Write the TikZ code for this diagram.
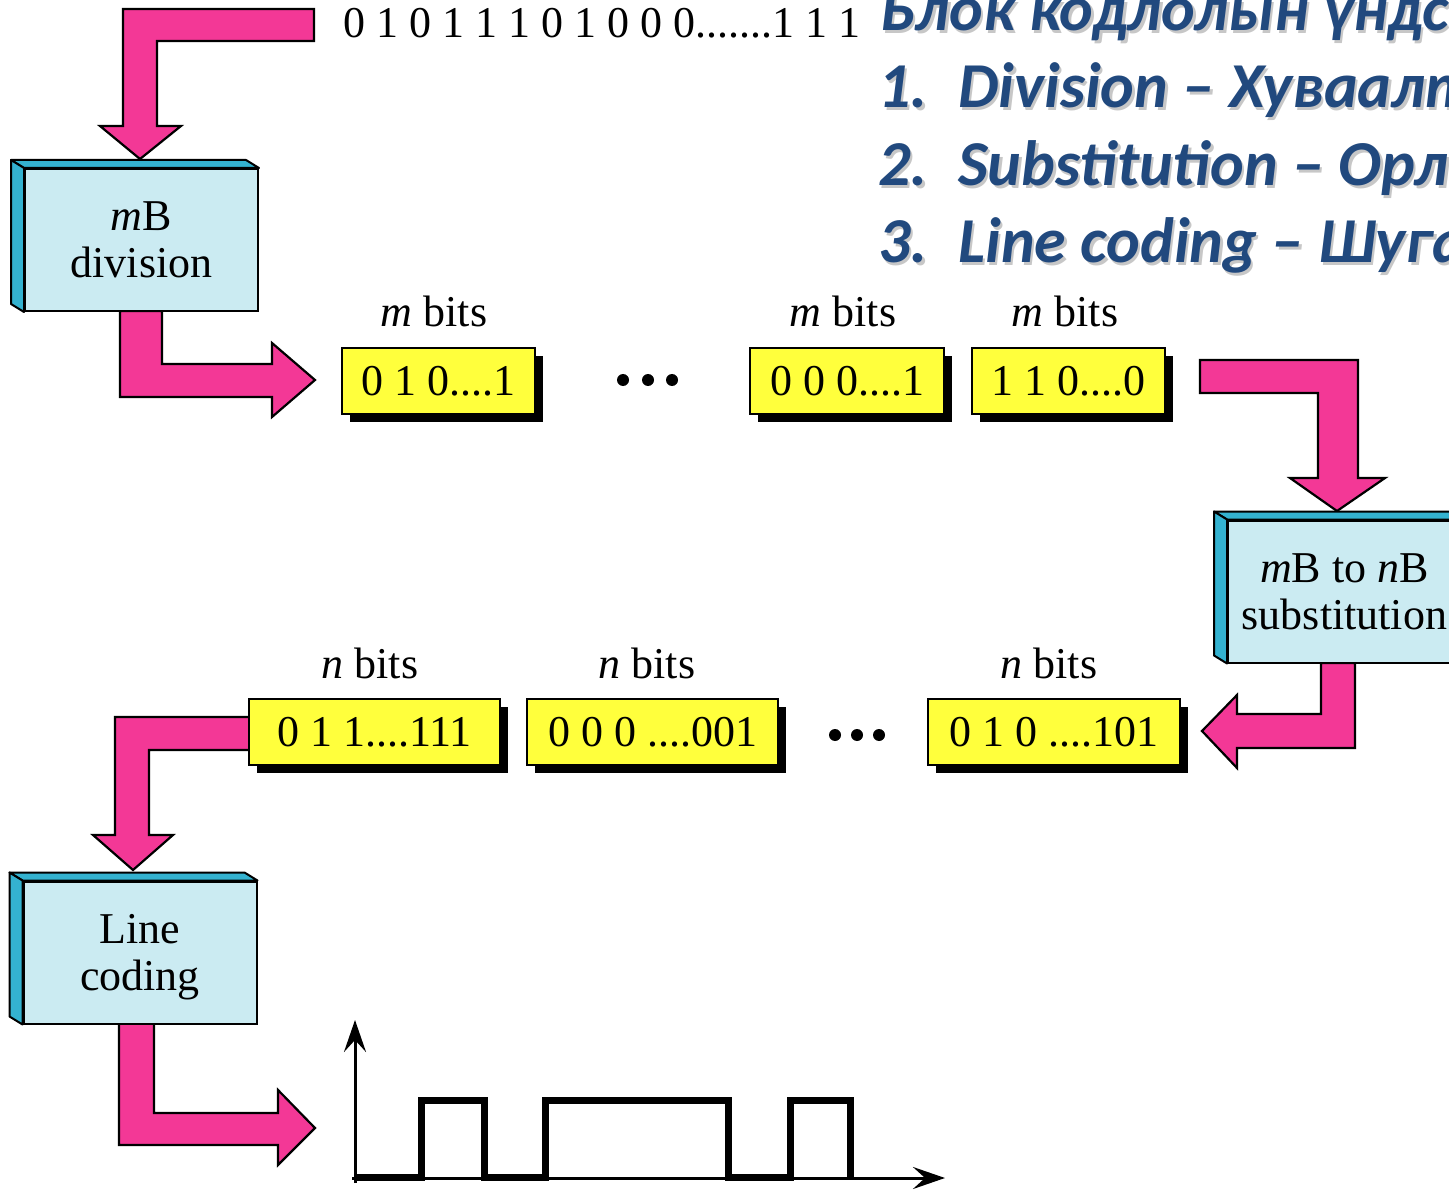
\documentclass[tikz,border=0pt]{standalone}
\usepackage{fontspec}
\setmainfont{Liberation Serif}
\newfontfamily\titlefont{Carlito}
\usetikzlibrary{shadows,arrows.meta,calc}
\definecolor{arrowpink}{RGB}{243,56,150}
\definecolor{boxface}{RGB}{203,235,242}
\definecolor{boxside}{RGB}{52,178,208}
\definecolor{bitsyellow}{RGB}{255,255,60}
\definecolor{titleblue}{RGB}{33,73,126}

% heading line with a soft drop shadow
\newcommand\ttl[4]{%
  \node[title,text=black,opacity=.22] at ($(#1,#2)+(2.5,2.5)$) {#4};
  \node[title] (#3) at (#1,#2) {#4};}

% 3-D faces (top and left) of a stage block
\newcommand\blockfaces[1]{%
  \filldraw[side] (#1.north west) -- ++(-13,-8) -- ($(#1.north east)+(-13,-8)$) -- (#1.north east) -- cycle;
  \filldraw[side] (#1.north west) -- ++(-13,-8) -- ($(#1.south west)+(-13,-8)$) -- (#1.south west) -- cycle;}

\begin{document}
\begin{tikzpicture}[x=1pt,y=-1pt,
  fat/.style={fill=arrowpink,draw=black,line width=2.2pt,line join=miter},
  stage/.style={fill=boxface,draw=black,line width=2pt,minimum width=233pt,
    minimum height=142pt,inner sep=0pt,align=center,
    font=\fontsize{44}{47}\selectfont},
  side/.style={fill=boxside,draw=black,line width=2pt,line join=round},
  bits/.style={fill=bitsyellow,draw=black,line width=2pt,minimum height=66pt,
    inner sep=0pt,font=\fontsize{44}{47}\selectfont,
    drop shadow={shadow xshift=8pt,shadow yshift=-8pt,fill=black,opacity=1}},
  lbl/.style={anchor=base,font=\fontsize{44}{47}\selectfont,inner sep=0pt},
  dot/.style={circle,fill=black,minimum size=12pt,inner sep=0pt},
  title/.style={anchor=base west,inner sep=0pt,text=titleblue,
    font=\titlefont\bfseries\itshape\fontsize{64}{77}\selectfont},
  axis/.style={line width=3pt,-{Stealth[length=32pt,width=22pt,inset=12pt]}},
  wave/.style={line width=7pt,line join=miter}
]
\useasboundingbox (0,0) rectangle (1449,1190);
\clip (0,0) rectangle (1449,1190);

% ---- headings ----
\ttl{880}{31}{h0}{Блок кодлолын үндсэн алхамууд}
\ttl{878}{108}{n1}{1.}
\ttl{958}{108}{t1}{Division – Хуваалт}
\ttl{878}{186}{n2}{2.}
\ttl{958}{186}{t2}{Substitution – Орлуулалт}
\ttl{878}{263}{n3}{3.}
\ttl{958}{263}{t3}{Line coding – Шугамын кодлол}

% ---- incoming bit stream ----
\node[lbl,anchor=base west] (stream) at (343,38) {0 1 0 1 1 1 0 1 0 0 0.......1 1 1};

% ---- fat arrows ----
\draw[fat] (314,9) -- (123,9) -- (123,126) -- (100,126) -- (140,159) -- (181,126)
  -- (157,126) -- (157,41) -- (314,41) -- cycle;
\draw[fat] (120,311) -- (120,397) -- (272,397) -- (272,417) -- (315,380) -- (272,343)
  -- (272,364) -- (162,364) -- (162,311) -- cycle;
\draw[fat] (1200,360) -- (1358,360) -- (1358,478) -- (1385,478) -- (1337,511)
  -- (1290,478) -- (1318,478) -- (1318,393) -- (1200,393) -- cycle;
\draw[fat] (1321,663) -- (1321,714) -- (1237,714) -- (1237,695) -- (1202,731)
  -- (1237,768) -- (1237,748) -- (1355,748) -- (1355,663) -- cycle;
\draw[fat] (250,717) -- (115,717) -- (115,835) -- (93,835) -- (133,870) -- (173,835)
  -- (149,835) -- (149,750) -- (250,750) -- cycle;
\draw[fat] (119,1023) -- (119,1145) -- (278,1145) -- (278,1165) -- (315,1128)
  -- (278,1090) -- (278,1113) -- (154,1113) -- (154,1023) -- cycle;

% ---- stage blocks ----
\node[stage] (div) at (141.5,240) {\textit{m}B\\division};
\blockfaces{div}
\node[stage] (sub) at (1344.5,591.5) {\textit{m}B to \textit{n}B\\substitution};
\blockfaces{sub}
\node[stage,text depth=0pt] (lc) at (140,952.5) {Line\\coding};
\blockfaces{lc}

% ---- m-bit groups ----
\node[bits,minimum width=193pt] (b1) at (438.5,381) {0 1 0....1};
\node[bits,minimum width=194pt] (b2) at (847,381) {0 0 0....1};
\node[bits,minimum width=193pt] (b3) at (1068.5,381) {1 1 0....0};
\node[lbl] (l1) at (434,327) {\textit{m} bits};
\node[lbl] (l2) at (843,327) {\textit{m} bits};
\node[lbl] (l3) at (1065,327) {\textit{m} bits};
\node[dot] (d1) at (623,380) {};
\node[dot] (d2) at (648,380) {};
\node[dot] (d3) at (672,380) {};

% ---- n-bit groups ----
\node[bits,minimum width=251pt] (b4) at (374.5,732) {0 1 1....111};
\node[bits,minimum width=251pt] (b5) at (652.5,732) {0 0 0 ....001};
\node[bits,minimum width=252pt] (b6) at (1054,732) {0 1 0 ....101};
\node[lbl] (l4) at (370,678) {\textit{n} bits};
\node[lbl] (l5) at (647,678) {\textit{n} bits};
\node[lbl] (l6) at (1049,678) {\textit{n} bits};
\node[dot] (d4) at (835,735) {};
\node[dot] (d5) at (857,735) {};
\node[dot] (d6) at (879,735) {};

% ---- line signal ----
\coordinate (o) at (355,1178);
\draw[axis] (355,1183) -- (355,1020);
\draw[axis] (352,1178) -- (945,1178);
\draw[wave] (355,1177) -- (421,1177) -- (421,1100) -- (484,1100) -- (484,1177)
  -- (545,1177) -- (545,1100) -- (728,1100) -- (728,1177) -- (790,1177)
  -- (790,1100) -- (850,1100) -- (850,1180);
\end{tikzpicture}
\end{document}
